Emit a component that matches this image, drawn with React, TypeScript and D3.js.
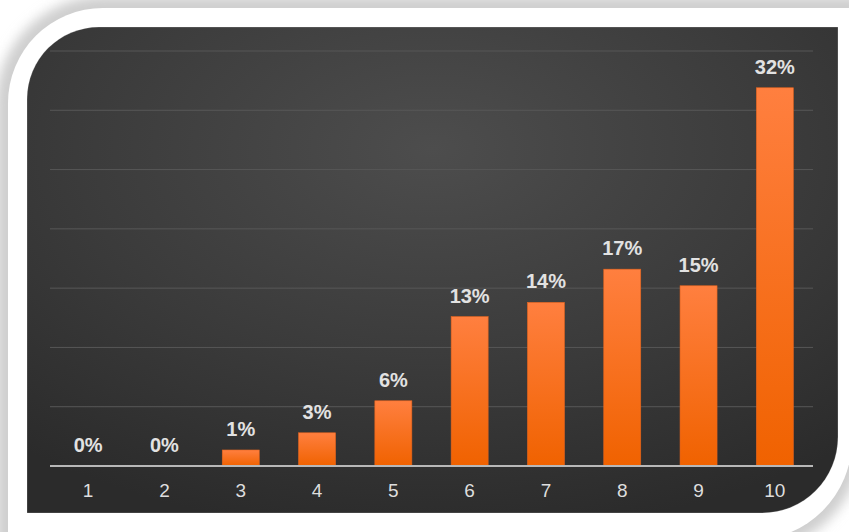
import React from 'react'
import * as d3 from 'd3'

// chart data
const categories = ['1', '2', '3', '4', '5', '6', '7', '8', '9', '10']
const shares = [0, 0, 1.35, 2.8, 5.5, 12.6, 13.8, 16.6, 15.2, 31.9]
const shareLabels = ['0%', '0%', '1%', '3%', '6%', '13%', '14%', '17%', '15%', '32%']
const gridTicks = [5, 10, 15, 20, 25, 30, 35]

const W = 849
const H = 532

// path for a box with rounded top-left and bottom-right corners
const cornerBox = (x0: number, y0: number, x1: number, y1: number, rTL: number, rBR: number) => {
  const p = d3.path()
  p.moveTo(x0, y0 + rTL)
  p.arcTo(x0, y0, x0 + rTL, y0, rTL)
  p.lineTo(x1, y0)
  p.lineTo(x1, y1 - rBR)
  p.arcTo(x1, y1, x1 - rBR, y1, rBR)
  p.lineTo(x0, y1)
  p.closePath()
  return p.toString()
}

const App: React.FC = () => {
  const x = d3
    .scaleBand<string>()
    .domain(categories)
    .range([50, 813])
    .paddingInner(0.515)
    .paddingOuter(0.2575)
  const y = d3.scaleLinear().domain([0, 35]).range([466, 51])
  const bw = x.bandwidth()

  return (
    <svg
      width={W}
      height={H}
      style={{ position: 'absolute', left: 0, top: 0 }}
      fontFamily="'Liberation Sans', Arial, sans-serif"
    >
      <defs>
        <filter id="blur" x="-10%" y="-10%" width="120%" height="120%">
          <feGaussianBlur stdDeviation="6" />
        </filter>
        <radialGradient id="panelBg" cx="50%" cy="25%" r="80%">
          <stop offset="0%" stopColor="#4d4d4d" />
          <stop offset="55%" stopColor="#3b3b3b" />
          <stop offset="100%" stopColor="#2b2b2b" />
        </radialGradient>
        <linearGradient id="barFill" x1="0" y1="0" x2="0" y2="1">
          <stop offset="0%" stopColor="#ff7f3f" />
          <stop offset="100%" stopColor="#f06200" />
        </linearGradient>
      </defs>

      <rect width={W} height={H} fill="#ffffff" />
      <path d={cornerBox(-4, -4, 862, 552, 108, 112)} fill="#cfcfcf" filter="url(#blur)" />
      <path d={cornerBox(8, 8, 852, 540, 95, 100)} fill="#ffffff" />
      <path
        d={cornerBox(27, 27, 838, 513, 72, 76)}
        fill="url(#panelBg)"
        stroke="rgba(255,255,255,0.22)"
        strokeWidth={1}
      />

      {gridTicks.map(t => (
        <line key={t} x1={50} x2={813} y1={y(t)} y2={y(t)} stroke="#575757" strokeWidth={1} />
      ))}

      {shares.map((v, i) => (
        <rect
          key={categories[i]}
          x={x(categories[i])}
          y={y(v)}
          width={bw}
          height={y(0) - y(v)}
          fill="url(#barFill)"
          stroke="#e4641e"
          strokeWidth={0.6}
        />
      ))}

      <line x1={50} x2={813} y1={y(0)} y2={y(0)} stroke="#b8b8b8" strokeWidth={2} />

      {shares.map((v, i) => (
        <text
          key={'v' + i}
          x={(x(categories[i]) as number) + bw / 2}
          y={y(v) - 14}
          textAnchor="middle"
          fontSize={20}
          fontWeight="bold"
          fill="#e2e2e2"
        >
          {shareLabels[i]}
        </text>
      ))}

      {categories.map(c => (
        <text
          key={'c' + c}
          x={(x(c) as number) + bw / 2}
          y={497}
          textAnchor="middle"
          fontSize={19}
          fill="#dedede"
        >
          {c}
        </text>
      ))}
    </svg>
  )
}

export default App
